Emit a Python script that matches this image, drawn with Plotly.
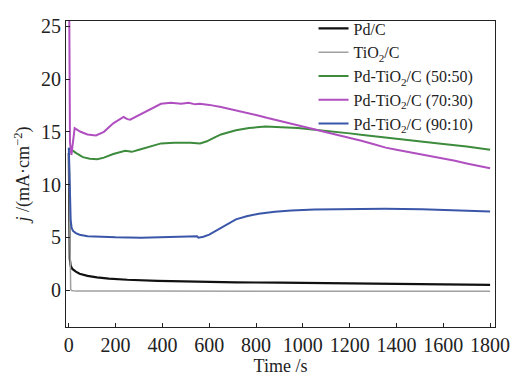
import plotly.graph_objects as go

# ---- data ----
names = ["Pd/C", "TiO<sub>2</sub>/C", "Pd-TiO<sub>2</sub>/C (50:50)",
         "Pd-TiO<sub>2</sub>/C (70:30)", "Pd-TiO<sub>2</sub>/C (90:10)"]
colors = ["#111111", "#a0a0a0", "#3d8b3d", "#b04fbf", "#3a56a8"]
widths = [2.2, 1.5, 2, 2, 2]

t_pd = [0, 2, 4, 8, 15, 30, 46, 80, 120, 171, 250, 380, 500, 714, 900, 1229, 1500, 1800]
j_pd = [13, 6, 3.0, 2.3, 2.0, 1.75, 1.55, 1.35, 1.2, 1.09, 0.98, 0.88, 0.81, 0.73, 0.70, 0.64, 0.56, 0.50]

t_ti = [0, 2, 4, 6, 8, 12, 30, 300, 600, 900, 1200, 1500, 1800]
j_ti = [13, 8, 3, 0.8, 0.1, -0.05, -0.1, -0.1, -0.1, -0.11, -0.11, -0.12, -0.12]

t_50 = [0, 11, 30, 60, 90, 122, 150, 190, 241, 269, 300, 350, 394, 450, 519, 561, 590, 617,
        650, 714, 770, 840, 900, 979, 1050, 1100, 1200, 1257, 1300, 1400, 1500, 1600, 1700, 1800]
j_50 = [13.4, 13.3, 13.0, 12.6, 12.45, 12.4, 12.55, 12.9, 13.2, 13.1, 13.3, 13.6, 13.9, 13.95,
        13.97, 13.9, 14.1, 14.4, 14.75, 15.15, 15.35, 15.5, 15.45, 15.35, 15.2, 15.1, 14.85,
        14.7, 14.6, 14.35, 14.1, 13.85, 13.6, 13.3]

t_70 = [0, 2, 5, 11, 25, 50, 80, 116, 150, 190, 234, 250, 262, 300, 350, 394, 436, 480, 512,
        540, 560, 600, 650, 700, 750, 800, 850, 900, 950, 1000, 1057, 1100, 1150, 1200, 1250,
        1300, 1354, 1400, 1450, 1500, 1550, 1600, 1650, 1700, 1750, 1800]
j_70 = [26.5, 26, 14, 12.8, 15.35, 15.0, 14.75, 14.65, 15.0, 15.8, 16.4, 16.2, 16.15, 16.6,
        17.2, 17.65, 17.75, 17.65, 17.75, 17.6, 17.65, 17.55, 17.35, 17.1, 16.9, 16.6, 16.3,
        16.05, 15.8, 15.5, 15.2, 14.95, 14.7, 14.45, 14.15, 13.85, 13.5, 13.3, 13.1, 12.9,
        12.7, 12.5, 12.25, 12.0, 11.8, 11.55]

t_90 = [0, 2, 4, 8, 12, 18, 30, 46, 80, 143, 200, 309, 400, 480, 540, 548, 554, 575, 600, 640,
        672, 714, 760, 812, 880, 951, 1050, 1202, 1350, 1508, 1650, 1800]
j_90 = [13.5, 11, 8.8, 6.6, 5.9, 5.6, 5.4, 5.25, 5.1, 5.03, 5.0, 4.97, 5.0, 5.05, 5.09, 5.1,
        4.97, 5.05, 5.25, 5.75, 6.2, 6.7, 7.0, 7.24, 7.42, 7.55, 7.64, 7.7, 7.7, 7.67, 7.58, 7.45]

series_t = [t_pd, t_ti, t_50, t_70, t_90]
series_j = [j_pd, j_ti, j_50, j_70, j_90]

x_ticks = list(range(0, 1801, 200))
y_ticks = [0, 5, 10, 15, 20, 25]

FONT = "Liberation Serif"

fig = go.Figure()
for n, c, w, tt, jj in zip(names, colors, widths, series_t, series_j):
    fig.add_trace(go.Scatter(x=tt, y=jj, mode="lines", name=n,
                             line=dict(color=c, width=w)))

axis_common = dict(showgrid=False, zeroline=False, showline=True, linecolor="#222",
                   linewidth=1, mirror=True, ticks="inside", ticklen=4, tickwidth=1,
                   tickcolor="#222", tickfont=dict(family=FONT, size=20, color="#222"))

fig.update_layout(
    width=522, height=383,
    margin=dict(l=66, r=17, t=17, b=48),
    paper_bgcolor="white", plot_bgcolor="white",
    font=dict(family=FONT, size=18, color="#222"),
    showlegend=True,
    legend=dict(x=0.577, y=1.031, xanchor="left", yanchor="top",
                bgcolor="rgba(0,0,0,0)", font=dict(family=FONT, size=16, color="#222"),
                tracegroupgap=0),
    xaxis=dict(range=[-12, 1821], tickvals=x_ticks,
               title=dict(text="Time /s", font=dict(family=FONT, size=18), standoff=2),
               **axis_common),
    yaxis=dict(range=[-3.5, 25.5], tickvals=y_ticks,
               title=dict(text="<i>j</i> /(mA·cm<sup>−2</sup>)", font=dict(family=FONT, size=18),
                          standoff=6),
               **axis_common),
)

fig.write_html("out.html")
